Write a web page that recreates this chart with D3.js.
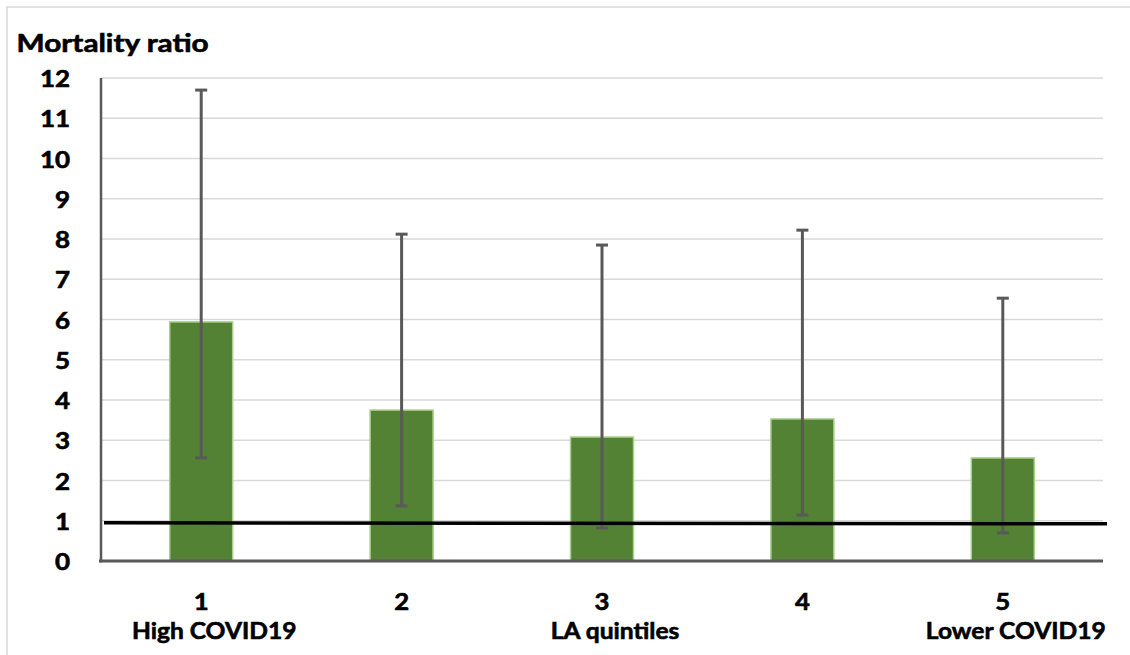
<!DOCTYPE html>
<html>
<head>
<meta charset="utf-8">
<script src="https://cdn.jsdelivr.net/npm/d3@7"></script>
<style>
  html, body { margin: 0; padding: 0; background: #fff; overflow: hidden; }
  svg { display: block; }
  text { font-family: Lato, "Open Sans", sans-serif; font-weight: bold; fill: #000; stroke: #000; stroke-width: 0.6px; }
</style>
</head>
<body>
<svg id="chart" width="1130" height="655"></svg>
<script>
// ---- data ----
const categories = ["1", "2", "3", "4", "5"];
const subLabels = ["High COVID19", "", "LA quintiles", "", "Lower COVID19"];
const ratios = [5.94, 3.75, 3.08, 3.53, 2.56];
const upperCI = [11.70, 8.12, 7.85, 8.22, 6.53];
const lowerCI = [2.56, 1.37, 0.82, 1.14, 0.70];
const yTicks = [0, 1, 2, 3, 4, 5, 6, 7, 8, 9, 10, 11, 12];
const referenceValue = 0.95;
const yTitle = "Mortality ratio";

// ---- layout ----
const svg = d3.select("#chart");
const plotLeft = 101, plotRight = 1103, plotTop = 78, plotBottom = 561;
const barWidth = 63;

const x = d3.scaleBand().domain(categories).range([plotLeft, plotRight]).padding(0);
const y = d3.scaleLinear().domain([0, 12]).range([plotBottom, plotTop]);

// text helper: horizontal stretch to mimic the original's wide bold face
function label(sel, tx, ty, size, anchor, sx) {
  return sel
    .attr("transform", (d, i) => `translate(${typeof tx === "function" ? tx(d, i) : tx},${typeof ty === "function" ? ty(d, i) : ty}) scale(${sx},1)`)
    .attr("text-anchor", anchor)
    .style("font-size", size + "px");
}

// outer chart border
svg.append("rect")
  .attr("x", 7).attr("y", 7).attr("width", 1200).attr("height", 700)
  .attr("fill", "none").attr("stroke", "#d9d9d9").attr("stroke-width", 1.5);

// gridlines
svg.append("g").selectAll("line")
  .data(yTicks.filter(d => d > 0))
  .join("line")
  .attr("x1", plotLeft).attr("x2", plotRight)
  .attr("y1", d => y(d)).attr("y2", d => y(d))
  .attr("stroke", "#d9d9d9").attr("stroke-width", 1.5);

// y tick labels
label(svg.append("g").selectAll("text").data(yTicks).join("text").text(d => d),
  70, d => y(d) + 9, 22, "end", 1.18);

// y title
label(svg.append("text").datum(yTitle).text(yTitle), 16.5, 52, 25, "start", 1.19);

// bars
const rows = categories.map((c, i) => ({ c, v: ratios[i], hi: upperCI[i], lo: lowerCI[i], sub: subLabels[i] }));
const cx = d => x(d.c) + x.bandwidth() / 2;

svg.append("g").selectAll("rect")
  .data(rows)
  .join("rect")
  .attr("x", d => cx(d) - barWidth / 2)
  .attr("width", barWidth)
  .attr("y", d => y(d.v))
  .attr("height", d => y(0) - y(d.v))
  .attr("fill", "#548235")
  .attr("stroke", "#a9d18e")
  .attr("stroke-width", 1.5);

// axes lines
svg.append("line")
  .attr("x1", plotLeft).attr("x2", plotLeft)
  .attr("y1", y(12)).attr("y2", y(0) + 1.5)
  .attr("stroke", "#595959").attr("stroke-width", 2.5);
svg.append("line")
  .attr("x1", plotLeft - 2).attr("x2", plotRight)
  .attr("y1", y(0)).attr("y2", y(0))
  .attr("stroke", "#595959").attr("stroke-width", 3);

// error bars
const eb = svg.append("g").attr("stroke", "#595959");
eb.selectAll("line.stem").data(rows).join("line").attr("class", "stem")
  .attr("x1", cx).attr("x2", cx)
  .attr("y1", d => y(d.hi)).attr("y2", d => y(d.lo))
  .attr("stroke-width", 3);
eb.selectAll("line.capHi").data(rows).join("line").attr("class", "capHi")
  .attr("x1", d => cx(d) - 6).attr("x2", d => cx(d) + 6)
  .attr("y1", d => y(d.hi)).attr("y2", d => y(d.hi))
  .attr("stroke-width", 3);
eb.selectAll("line.capLo").data(rows).join("line").attr("class", "capLo")
  .attr("x1", d => cx(d) - 6).attr("x2", d => cx(d) + 6)
  .attr("y1", d => y(d.lo)).attr("y2", d => y(d.lo))
  .attr("stroke-width", 3);

// reference line
svg.append("line")
  .attr("x1", plotLeft + 3).attr("x2", plotRight + 4)
  .attr("y1", y(referenceValue)).attr("y2", y(referenceValue) + 1)
  .attr("stroke", "#000").attr("stroke-width", 3.5);

// x labels
label(svg.append("g").selectAll("text").data(rows).join("text").text(d => d.c),
  cx, 610, 23, "middle", 1.12);
label(svg.append("g").selectAll("text").data(rows.filter(d => d.sub)).join("text").text(d => d.sub),
  d => cx(d) + 13, 639, 23, "middle", 1.07);
</script>
</body>
</html>
